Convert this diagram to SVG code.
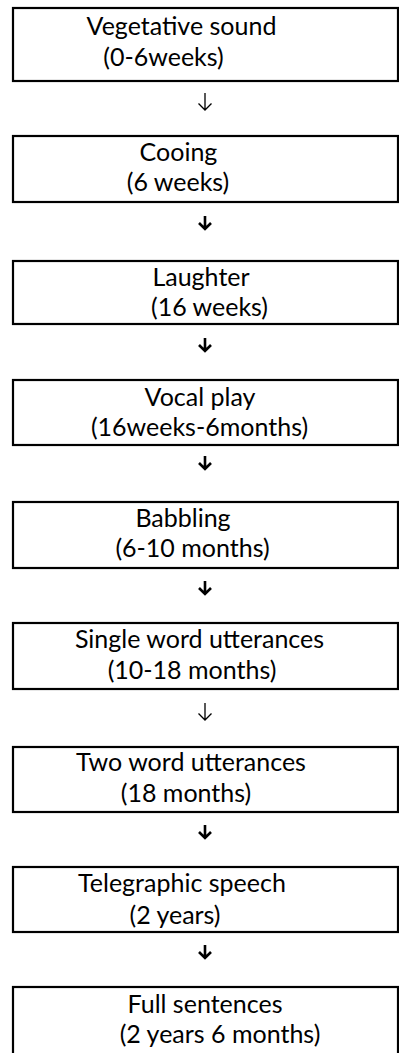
<svg xmlns="http://www.w3.org/2000/svg" width="399" height="1053" viewBox="0 0 399 1053">
<style>
.box{fill:#fff;stroke:#000;stroke-width:2.2}
.t{font-family:Lato,"Liberation Sans",sans-serif;font-size:25px;fill:#000;text-anchor:middle}
.thin{fill:none;stroke:#000;stroke-width:1.3}
.bold{fill:none;stroke:#000;stroke-width:2.6}
</style>
<rect width="399" height="1053" fill="#fff"/>
<g id="connectors">
<path class="thin" d="M205 93V110M198.5 103.5L205 110L211.5 103.5"/>
<path class="bold" d="M205 216V229M199 223L205 229L211 223"/>
<path class="bold" d="M205 338V351M199 345L205 351L211 345"/>
<path class="bold" d="M205 456V469M199 463L205 469L211 463"/>
<path class="bold" d="M205 581V594M199 588L205 594L211 588"/>
<path class="thin" d="M205 703V720M198.5 713.5L205 720L211.5 713.5"/>
<path class="bold" d="M205 825V838M199 832L205 838L211 832"/>
<path class="bold" d="M205 945V958M199 952L205 958L211 952"/>
</g>
<g id="n1"><rect class="box" x="13" y="8" width="385" height="73"/><text class="t" x="181.5" y="35">Vegetative sound</text><text class="t" x="163.5" y="66">(0-6weeks)</text></g>
<g id="n2"><rect class="box" x="13" y="136" width="385" height="66"/><text class="t" x="178.5" y="161">Cooing</text><text class="t" x="178" y="191">(6 weeks)</text></g>
<g id="n3"><rect class="box" x="13" y="261" width="385" height="63"/><text class="t" x="201" y="286">Laughter</text><text class="t" x="209.5" y="316">(16 weeks)</text></g>
<g id="n4"><rect class="box" x="13" y="380" width="385" height="65"/><text class="t" x="200" y="406">Vocal play</text><text class="t" x="199.5" y="436">(16weeks-6months)</text></g>
<g id="n5"><rect class="box" x="13" y="502" width="385" height="66"/><text class="t" x="183" y="527">Babbling</text><text class="t" x="192.5" y="557">(6-10 months)</text></g>
<g id="n6"><rect class="box" x="13" y="623" width="385" height="66"/><text class="t" x="199.5" y="648">Single word utterances</text><text class="t" x="192" y="679">(10-18 months)</text></g>
<g id="n7"><rect class="box" x="13" y="747" width="385" height="65"/><text class="t" x="191" y="771">Two word utterances</text><text class="t" x="186" y="802">(18 months)</text></g>
<g id="n8"><rect class="box" x="13" y="867" width="385" height="65"/><text class="t" x="182" y="892">Telegraphic speech</text><text class="t" x="175" y="924">(2 years)</text></g>
<g id="n9"><rect class="box" x="13" y="987" width="385" height="80"/><text class="t" x="205" y="1013">Full sentences</text><text class="t" x="220" y="1043">(2 years 6 months)</text></g>
</svg>
